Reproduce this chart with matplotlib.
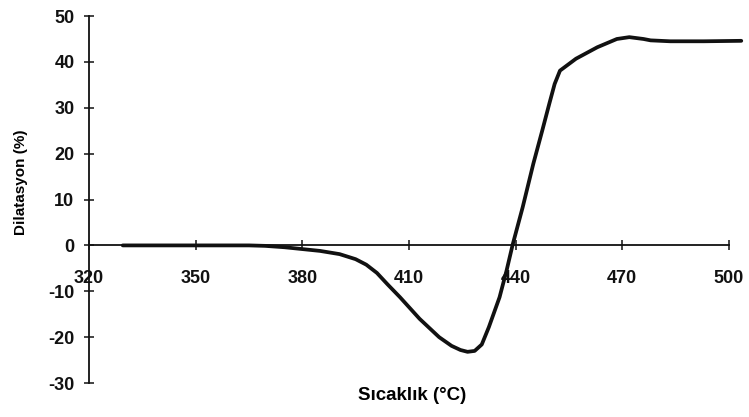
import matplotlib
matplotlib.use("Agg")
import matplotlib.pyplot as plt

# Dilatation curve
sicaklik = [329.5, 340, 350, 360, 365, 369.5, 375, 380, 385, 390.5, 395,
            398, 401, 404, 407.5, 413, 418.5, 422, 424.5, 426.5, 428.5,
            430.5, 432.5, 435.5, 437.5, 439.2, 442, 445, 447.5, 449.5,
            451, 452.5, 457, 463, 468.5, 472, 476, 478, 483.5, 493, 503.5]
dilatasyon = [0, 0, 0, 0, 0, -0.1, -0.4, -0.8, -1.2, -1.9, -3.0,
              -4.2, -6.0, -8.5, -11.3, -16.0, -20.0, -21.9, -22.8, -23.2,
              -23.0, -21.6, -17.8, -11.3, -5.4, 0.2, 8.3, 17.8, 25.0, 30.9,
              35.2, 38.1, 40.7, 43.2, 45.0, 45.4, 45.0, 44.7, 44.5, 44.5,
              44.6]

x_ticks = [320, 350, 380, 410, 440, 470, 500]
y_ticks = [-30, -20, -10, 0, 10, 20, 30, 40, 50]

plt.rcParams["font.family"] = ["Liberation Sans", "DejaVu Sans"]
plt.rcParams["font.weight"] = "bold"
plt.rcParams["axes.unicode_minus"] = False

fig = plt.figure(figsize=(7.49, 4.17), dpi=100)
ax = fig.add_axes([0.1188, 0.0815, 0.878, 0.880])

ax.plot(sicaklik, dilatasyon, color="#111111", linewidth=2.7,
        solid_joinstyle="round", solid_capstyle="round")

ax.set_xlim(320, 505)
ax.set_ylim(-30, 50)

for side in ("top", "right"):
    ax.spines[side].set_visible(False)
ax.spines["left"].set_position(("data", 320))
ax.spines["left"].set_bounds(-30, 50)
ax.spines["bottom"].set_position(("data", 0))
ax.spines["bottom"].set_bounds(320, 500)
for side in ("left", "bottom"):
    ax.spines[side].set_linewidth(1.3)
    ax.spines[side].set_color("#111111")

ax.set_xticks(x_ticks)
ax.set_yticks(y_ticks)
ax.tick_params(axis="both", direction="inout", length=7, width=1.1,
               labelsize=13, colors="#111111")
ax.tick_params(axis="x", pad=14)
ax.tick_params(axis="y", pad=7)

ax.set_xlabel("Sıcaklık (°C)", fontsize=13.5, fontweight="bold", va="center")
ax.xaxis.set_label_coords(0.491, -0.033)
ax.set_ylabel("Dilatasyon (%)", fontsize=11, fontweight="bold", va="center")
ax.yaxis.set_label_coords(-0.103, 0.548)

fig.savefig("out.png", dpi=100)
